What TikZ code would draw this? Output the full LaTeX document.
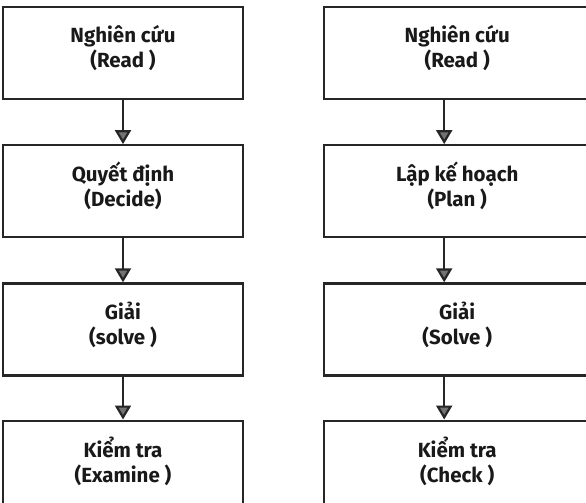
\documentclass[tikz,border=0pt]{standalone}
\usepackage{fontspec}
\setmainfont{Fira Sans}
\usetikzlibrary{arrows.meta, positioning}

\begin{document}
\begin{tikzpicture}[
  x=1pt, y=-1pt,
  box/.style={draw=black!85, line width=2.2pt, minimum width=240pt,
              minimum height=92pt, inner sep=0pt},
  wbox/.style={box, minimum width=266pt},
  txt/.style={align=center, font=\fontsize{20.5}{25}\selectfont\bfseries,
              text=black!90, yshift=5pt},
  arr/.style={-{Triangle[width=16pt, length=14pt, fill=black!55]},
              line width=2.2pt, draw=black!85},
  node distance=44pt and 79pt
]
\useasboundingbox (0,0) rectangle (586,503);
% left column
\node[box] (read1) at (123,53) {};
\node[box, below=of read1] (decide) {};
\node[box, below=of decide] (solve1) {};
\node[box, below=43pt of solve1] (examine) {};
% right column
\node[wbox, right=of read1.east, anchor=west] (read2) {};
\node[wbox, below=of read2] (plan) {};
\node[wbox, below=of plan] (solve2) {};
\node[wbox, below=43pt of solve2] (check) {};
% texts
\node[txt] at (read1.center) {Nghiên cứu\\(Read )};
\node[txt] at (decide.center) {Quyết định\\(Decide)};
\node[txt] at (solve1.center) {Giải\\(solve )};
\node[txt] at (examine.center) {Kiểm tra\\(Examine )};
\node[txt] at (read2.center) {Nghiên cứu\\(Read )};
\node[txt] at (plan.center) {Lập kế hoạch\\(Plan )};
\node[txt] at (solve2.center) {Giải\\(Solve )};
\node[txt] at (check.center) {Kiểm tra\\(Check )};
% arrows
\draw[arr] (read1) -- (decide);
\draw[arr] (decide) -- (solve1);
\draw[arr] (solve1) -- (examine);
\draw[arr] ([xshift=-13pt]read2.south) -- ([xshift=-13pt]plan.north);
\draw[arr] ([xshift=-13pt]plan.south) -- ([xshift=-13pt]solve2.north);
\draw[arr] ([xshift=-13pt]solve2.south) -- ([xshift=-13pt]check.north);
\end{tikzpicture}
\end{document}
